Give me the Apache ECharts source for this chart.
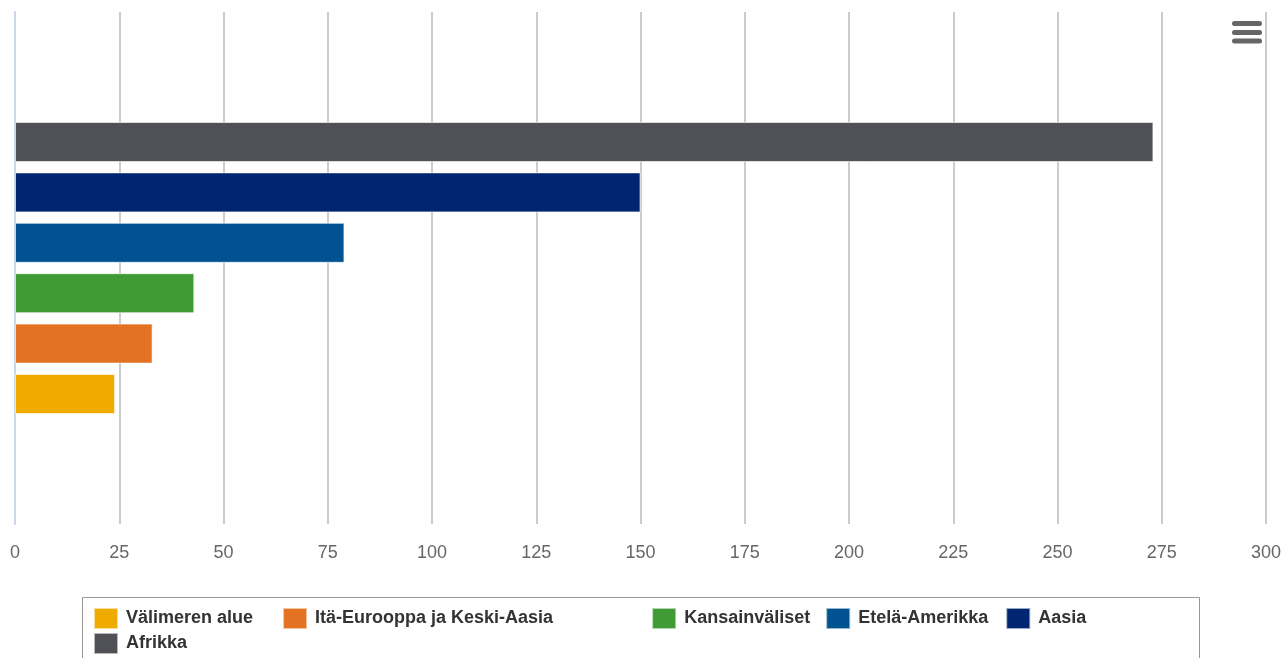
<!DOCTYPE html>
<html>
<head>
<meta charset="utf-8">
<title>Alueet</title>
<script src="https://cdn.jsdelivr.net/npm/echarts@6/dist/echarts.min.js"></script>
<style>
  html, body { margin: 0; padding: 0; background: #fff; }
  #main { width: 1285px; height: 658px; }
</style>
</head>
<body>
<div id="main"></div>
<script>
// data (legend order)
var seriesNames = ['Välimeren alue', 'Itä-Eurooppa ja Keski-Aasia', 'Kansainväliset', 'Etelä-Amerikka', 'Aasia', 'Afrikka'];
var seriesValues = [24, 33, 43, 79, 150, 273];
var seriesColors = ['#f0ab00', '#e37222', '#409b35', '#005291', '#002672', '#505156'];
var categories = [''];
var xTicks = [0, 25, 50, 75, 100, 125, 150, 175, 200, 225, 250, 275, 300];

var myChart = echarts.init(document.getElementById('main'));

//build bar series, last one drawn on top
function BuildSeries () {
  var list = [];
  for (var i = seriesNames.length - 1; i >= 0; i--) {
    list.push({
      name: seriesNames[i],
      type: 'bar',
      barWidth: 40,
      barGap: '26%',
      itemStyle: {
        color: seriesColors[i],
        borderColor: 'rgba(255,255,255,0.6)',
        borderWidth: 1
      },
      data: [seriesValues[i]]
    });
  }
  return list;
}

//legend items with their own spacing
function LegendData () {
  var gaps = [27, 96, 13, 15, 13, 0];
  var arr = [];
  for (var i = 0; i < seriesNames.length; i++) {
    arr.push({
      name: seriesNames[i],
      textStyle: { padding: [0, gaps[i], 0, 3] }
    });
  }
  return arr;
}

//menu icon top right + legend frame
function Graphics () {
  var g = [];
  var ys = [23.5, 32.5, 41];
  for (var i = 0; i < ys.length; i++) {
    g.push({
      type: 'line',
      shape: { x1: 1234.5, y1: ys[i], x2: 1259.5, y2: ys[i] },
      style: { stroke: '#666', lineWidth: 5, lineCap: 'round' }
    });
  }
  g.push({
    type: 'rect',
    shape: { x: 82.5, y: 597.5, width: 1117, height: 80 },
    style: { fill: 'none', stroke: '#999', lineWidth: 1 },
    z: 0
  });
  return g;
}

var option = {
  animation: false,
  textStyle: { fontFamily: 'Liberation Sans, Arial, sans-serif' },
  grid: { left: 15, right: 19, top: 12, bottom: 134, containLabel: false },
  legend: {
    left: 93,
    top: 607,
    width: 1050,
    itemWidth: 24,
    itemHeight: 21,
    itemGap: 2,
    padding: 0,
    icon: 'rect',
    data: LegendData(),
    textStyle: {
      color: '#333',
      fontSize: 18,
      fontWeight: 'bold',
      lineHeight: 21
    }
  },
  xAxis: {
    type: 'value',
    min: xTicks[0],
    max: xTicks[xTicks.length - 1],
    interval: 25,
    axisLine: { show: false },
    axisTick: { show: false },
    axisLabel: { color: '#666', fontSize: 18, margin: 20 },
    splitLine: { show: true, lineStyle: { color: '#cccccc', width: 2 } }
  },
  yAxis: {
    type: 'category',
    data: categories,
    axisLine: { show: true, lineStyle: { color: '#ccd6eb', width: 2 } },
    axisTick: { show: false },
    axisLabel: { show: false },
    splitLine: { show: false }
  },
  graphic: Graphics(),
  series: BuildSeries()
};

myChart.setOption(option);
</script>
</body>
</html>
